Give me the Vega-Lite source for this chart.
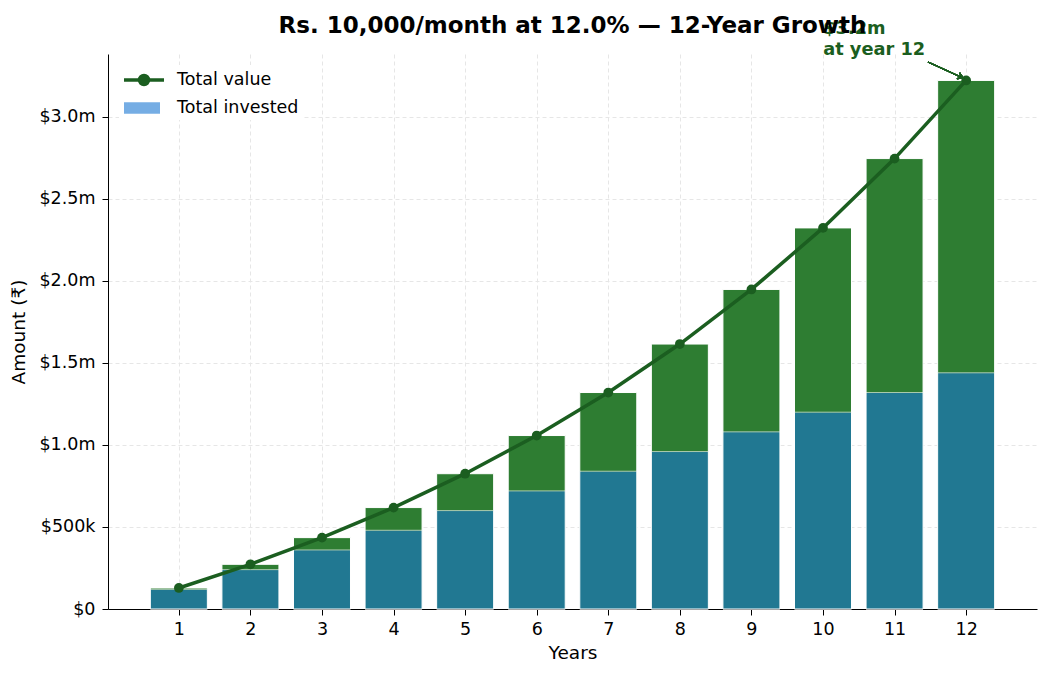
{
  "$schema": "https://vega.github.io/schema/vega-lite/v6.json",
  "autosize": {"type": "none"},
  "width": 929,
  "height": 555,
  "padding": {"left": 108, "top": 54, "right": 13, "bottom": 67},
  "background": "white",
  "title": {
    "text": "Rs. 10,000/month at 12.0% — 12-Year Growth",
    "font": "DejaVu Sans",
    "fontSize": 23,
    "fontWeight": "bold",
    "color": "black",
    "anchor": "middle",
    "baseline": "alphabetic",
    "offset": -36
  },
  "config": {
    "view": {"stroke": null},
    "font": "DejaVu Sans",
    "axis": {
      "labelFont": "DejaVu Sans",
      "titleFont": "DejaVu Sans",
      "labelFontSize": 17.5,
      "titleFontSize": 18.5,
      "titleFontWeight": "normal",
      "labelColor": "black",
      "titleColor": "black",
      "domainColor": "black",
      "tickColor": "black",
      "tickSize": 6,
      "gridColor": "#e6e6e6",
      "gridDash": [4, 3]
    },
    "legend": {
      "title": null,
      "orient": "top-left",
      "offset": 11,
      "padding": 3,
      "fillColor": "white",
      "labelFont": "DejaVu Sans",
      "labelFontSize": 17.5,
      "labelColor": "black",
      "symbolSize": 400,
      "symbolOffset": 10,
      "layout": {"top-left": {"direction": "vertical", "margin": 0}}
    }
  },
  "data": {
    "values": [
      {"year": 1, "invested": 120000, "value": 128093},
      {"year": 2, "invested": 240000, "value": 272432},
      {"year": 3, "invested": 360000, "value": 435077},
      {"year": 4, "invested": 480000, "value": 618348},
      {"year": 5, "invested": 600000, "value": 824864},
      {"year": 6, "invested": 720000, "value": 1057570},
      {"year": 7, "invested": 840000, "value": 1319789},
      {"year": 8, "invested": 960000, "value": 1615265},
      {"year": 9, "invested": 1080000, "value": 1948215},
      {"year": 10, "invested": 1200000, "value": 2323391},
      {"year": 11, "invested": 1320000, "value": 2746148},
      {"year": 12, "invested": 1440000, "value": 3222522}
    ]
  },
  "encoding": {
    "x": {
      "field": "year",
      "type": "quantitative",
      "scale": {"domain": [0.01, 12.99], "nice": false, "zero": false, "padding": 0},
      "axis": {
        "title": "Years",
        "values": [1, 2, 3, 4, 5, 6, 7, 8, 9, 10, 11, 12],
        "format": "d",
        "grid": true,
        "labelPadding": 5,
        "titlePadding": 6
      }
    }
  },
  "layer": [
    {
      "mark": {"type": "line", "opacity": 0, "strokeWidth": 3.5},
      "encoding": {
        "y": {
          "field": "value",
          "type": "quantitative",
          "scale": {"domain": [0, 3383700], "nice": false},
          "axis": {
            "title": "Amount (₹)",
            "values": [0, 500000, 1000000, 1500000, 2000000, 2500000, 3000000],
            "labelExpr": "datum.value == 0 ? '$0' : datum.value < 1000000 ? '$' + format(datum.value / 1000, '.0f') + 'k' : '$' + format(datum.value / 1000000, '.1f') + 'm'",
            "grid": true,
            "labelPadding": 7,
            "titlePadding": 10
          }
        },
        "color": {
          "datum": "Total value",
          "scale": {"domain": ["Total value"], "range": ["#1b5e20"]},
          "legend": {
            "symbolType": "M-2,0H2M-0.45,0A0.45,0.45 0 1,0 0.45,0A0.45,0.45 0 1,0 -0.45,0M-0.15,0A0.15,0.15 0 1,0 0.15,0A0.15,0.15 0 1,0 -0.15,0",
            "symbolStrokeWidth": 3.5,
            "symbolOpacity": 1,
            "labelOffset": 21
          }
        }
      }
    },
    {
      "mark": {"type": "bar", "size": 57, "color": "#2e7d32", "stroke": "white", "strokeWidth": 1},
      "encoding": {
        "y": {"field": "value", "type": "quantitative"}
      }
    },
    {
      "mark": {"type": "bar", "size": 57, "opacity": 0.6, "stroke": "white", "strokeWidth": 1},
      "encoding": {
        "y": {"field": "invested", "type": "quantitative"},
        "fill": {
          "datum": "Total invested",
          "scale": {"domain": ["Total invested"], "range": ["#1976d2"]},
          "legend": {
            "symbolType": "M-1.8,-0.58H1.8V0.58H-1.8Z",
            "symbolOpacity": 0.6,
            "symbolStrokeWidth": 0,
            "labelOffset": 25
          }
        }
      }
    },
    {
      "mark": {"type": "line", "strokeWidth": 3.5, "point": {"size": 95, "filled": true, "opacity": 1}},
      "encoding": {
        "y": {"field": "value", "type": "quantitative"},
        "color": {"datum": "Total value"}
      }
    },
    {
      "transform": [{"filter": "datum.year == 12"}],
      "mark": {
        "type": "text",
        "align": "left",
        "baseline": "alphabetic",
        "dx": -143,
        "dy": -46,
        "font": "DejaVu Sans",
        "fontSize": 17.8,
        "fontWeight": "bold",
        "lineHeight": 21,
        "color": "#1b5e20"
      },
      "encoding": {
        "y": {"field": "value", "type": "quantitative"},
        "text": {"value": ["$3.2m", "at year 12"]}
      }
    },
    {
      "mark": {"type": "rule", "color": "#1b5e20", "strokeWidth": 1.3},
      "encoding": {
        "x": {"datum": 11.467},
        "x2": {"datum": 11.956},
        "y": {"datum": 3335000},
        "y2": {"datum": 3237400}
      }
    },
    {
      "mark": {"type": "point", "shape": "M-1,-0.6L0,0L-1,0.6", "size": 110, "filled": false, "stroke": "#1b5e20", "strokeWidth": 1.3, "angle": 24.6, "opacity": 1},
      "encoding": {
        "x": {"datum": 11.956},
        "y": {"datum": 3237400}
      }
    }
  ]
}
